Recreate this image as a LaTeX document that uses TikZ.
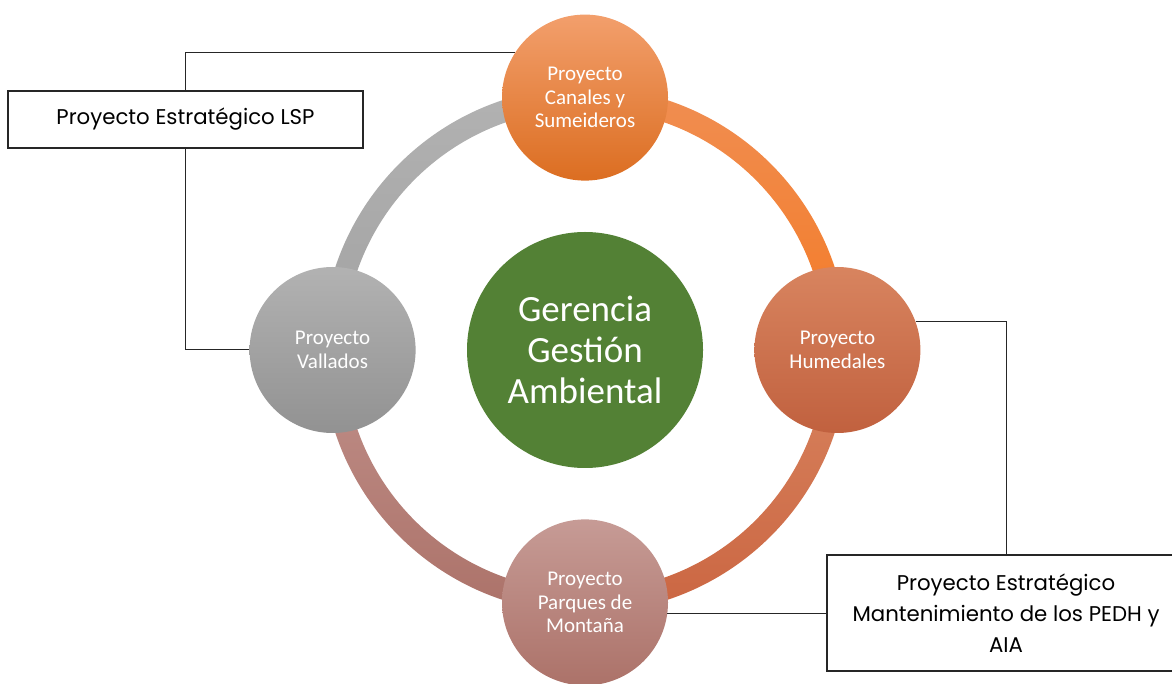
\documentclass[tikz,border=0pt]{standalone}
\usepackage{fontspec}
\setmainfont{Carlito}
\newfontfamily\boxfont{Poppins}
\usepackage{tikz}
\usetikzlibrary{shapes.geometric,positioning}
\definecolor{grA}{HTML}{B2B2B2}
\definecolor{grB}{HTML}{A2A2A2}
\definecolor{orA}{HTML}{F08E52}
\definecolor{orB}{HTML}{F47A25}
\definecolor{rdA}{HTML}{D8845F}
\definecolor{rdB}{HTML}{CB6642}
\definecolor{rsA}{HTML}{C0908A}
\definecolor{rsB}{HTML}{AC7269}
\definecolor{gerencia}{HTML}{538135}

\begin{document}
\begin{tikzpicture}[
        x=1pt, y=1pt,
        center/.style={circle, fill=gerencia, minimum size=236pt, inner sep=0pt, text=white, align=center, font=\fontsize{37}{41}\selectfont},
        proj/.style={circle, minimum size=166pt, inner sep=0pt, text=white, align=center, font=\fontsize{21}{23.5}\selectfont},
        strat/.style={rectangle, draw=black!85, line width=1.2pt, fill=white, align=center, font=\boxfont\fontsize{21.3}{31}\selectfont},
        link/.style={line width=1pt, black!85}
    ]
    \useasboundingbox (0,0) rectangle (1172,683);
    \coordinate (o) at (585,333);
    % Ring
    \foreach \a/\ctop/\cbot in {0/orA/orB, 90/grA/grB, 180/rsA/rsB, 270/rdA/rdB}{
        \shade[shift={(o)}, top color=\ctop, bottom color=\cbot]
            (\a:263) arc[start angle=\a, end angle=\a+90, radius=263]
            -- (\a+90:241) arc[start angle=\a+90, end angle=\a, radius=241] -- cycle;
    }
    % Centre
    \node[center] (gerencia) at (o) {Gerencia\\Gestión\\Ambiental};
    % Projects
    \node[proj, above=51pt of gerencia, top color=orA!85!white, bottom color=orB!90!black] (canales) {Proyecto\\Canales y\\Sumeideros};
    \node[proj, right=51pt of gerencia, top color=rdA, bottom color=rdB!95!black] (humedales) {Proyecto\\Humedales};
    \node[proj, below=51pt of gerencia, top color=rsA!90!white, bottom color=rsB] (parques) {Proyecto\\Parques de\\Montaña};
    \node[proj, left=51pt of gerencia, top color=grA, bottom color=grB!90!black] (vallados) {Proyecto\\Vallados};
    % Strategic projects
    \node[strat, minimum width=355pt, minimum height=57pt] (lsp) at (185.5,563.5) {Proyecto Estratégico LSP};
    \node[strat, minimum width=358pt, minimum height=116pt] (pedh) at (1006,70) {Proyecto Estratégico\\Mantenimiento de los PEDH y\\AIA};
    % Links
    \draw[link] (lsp.north) |- (canales.147);
    \draw[link] (lsp.south) |- (vallados.west);
    \draw[link] (humedales.20) -| (pedh.north);
    \draw[link] (parques.-8) -- (parques.-8 -| pedh.west);
\end{tikzpicture}
\end{document}
